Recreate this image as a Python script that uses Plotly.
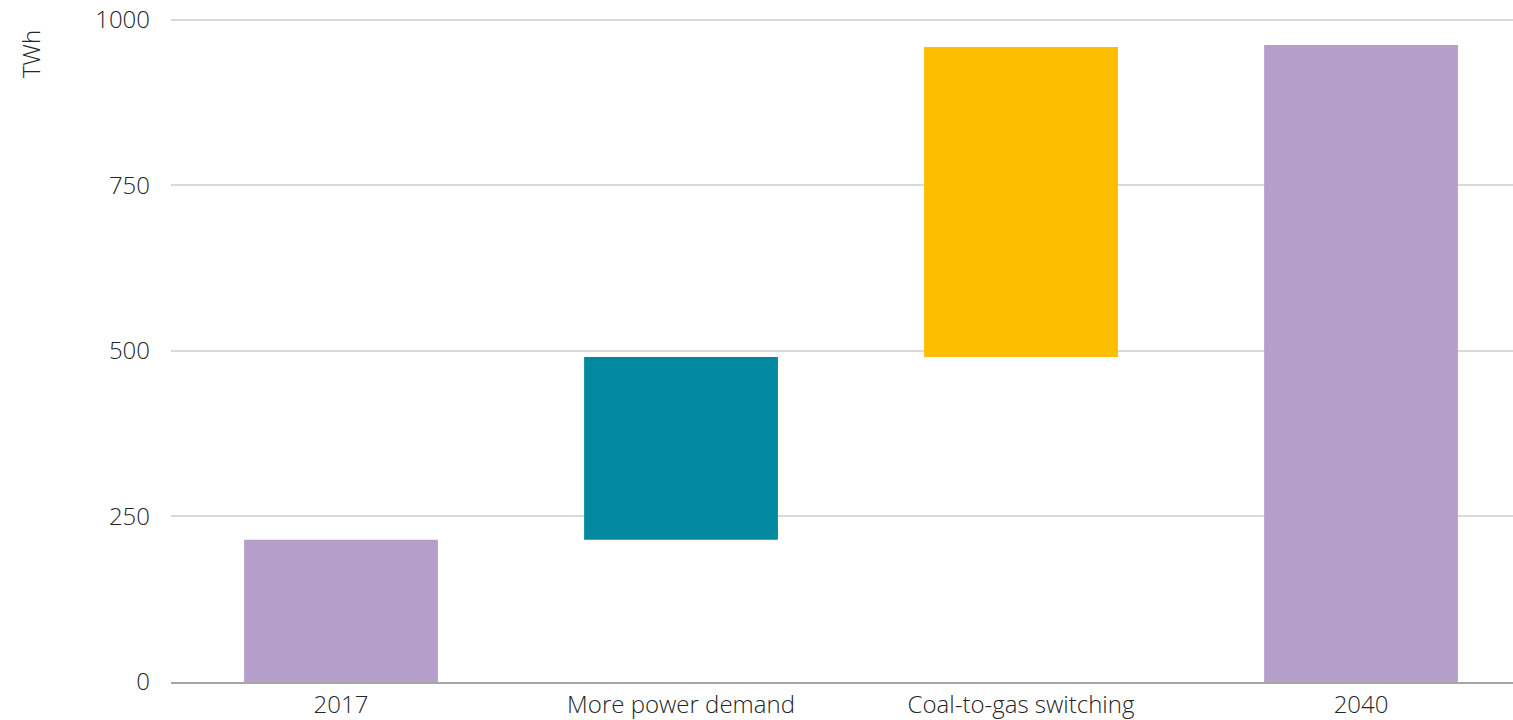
import plotly.graph_objects as go

categories = ["2017", "More power demand", "Coal-to-gas switching", "2040"]
changes = [215, 276, 468, 962]
kinds = ["total", "step", "step", "total"]
colors = ["#b59fca", "#02889f", "#febe00", "#b59fca"]

bases = []
heights = []
running = 0
for v, k in zip(changes, kinds):
    if k == "total":
        bases.append(0)
        heights.append(v)
        running = v
    else:
        bases.append(running)
        heights.append(v)
        running += v

fig = go.Figure(go.Bar(
    x=categories, y=heights, base=bases,
    marker=dict(color=colors, line=dict(width=0)),
    width=0.57, hoverinfo="x+y",
))

font_family = "'Open Sans', Lato, sans-serif"
tick_font = dict(family=font_family, size=24, color="#262626", weight=300)

fig.update_layout(
    width=1513, height=720,
    margin=dict(l=171, r=0, t=12, b=36),
    plot_bgcolor="white", paper_bgcolor="white",
    showlegend=False,
    font=dict(family=font_family, size=24, color="#262626", weight=300),
    xaxis=dict(
        range=[-0.5, 3.447],
        showgrid=False, showline=True, linecolor="#a6a6a6", linewidth=2,
        ticks="", tickfont=tick_font, ticklabelstandoff=0,
        ticklabeloverflow="allow",
    ),
    yaxis=dict(
        range=[0, 1012], tickvals=[0, 250, 500, 750, 1000],
        showgrid=True, gridcolor="#d9d9d9", gridwidth=2,
        zeroline=False, showline=False, ticks="", ticklen=0,
        tickfont=tick_font, ticklabelstandoff=20,
        ticklabeloverflow="allow",
    ),
    annotations=[dict(
        text="TWh", textangle=-90, xref="paper", yref="paper",
        x=-0.105, y=1.0, xanchor="center", yanchor="top",
        yshift=-16, showarrow=False,
        font=dict(family=font_family, size=24, color="#262626", weight=300),
    )],
)

fig.write_html(
    "out.html",
    config={"displayModeBar": False},
    post_script="document.body.style.margin='0';document.body.style.overflow='hidden';",
)
